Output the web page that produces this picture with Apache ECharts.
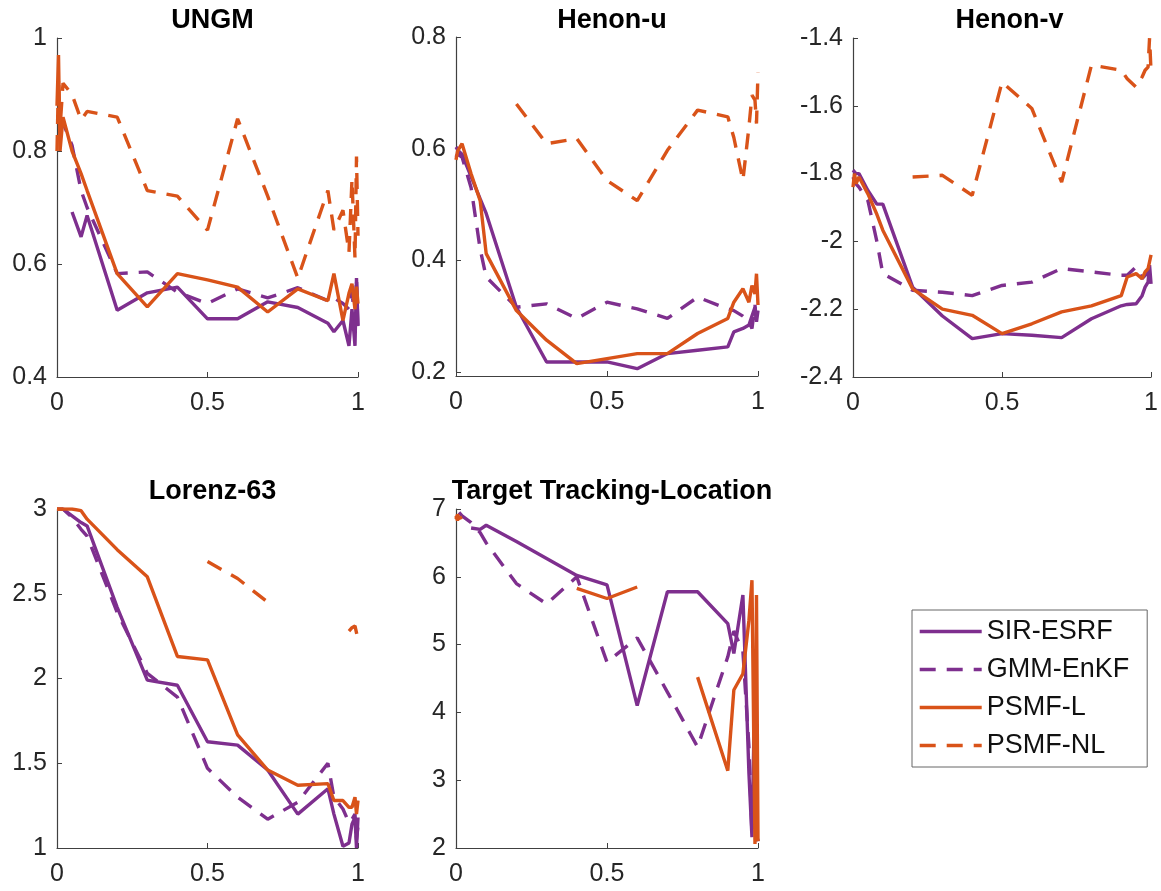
<!DOCTYPE html>
<html>
<head>
<meta charset="utf-8">
<script src="https://cdn.jsdelivr.net/npm/echarts@6/dist/echarts.min.js"></script>
<style>
html,body{margin:0;padding:0;background:#fff;}
#chart{width:1161px;height:891px;}
</style>
</head>
<body>
<div id="chart"></div>
<script>
// shared x grid
var X = [0, 0.005, 0.01, 0.02, 0.05, 0.08, 0.1, 0.2, 0.3, 0.4, 0.5, 0.6, 0.7, 0.8, 0.9, 0.92, 0.95, 0.97, 0.98, 0.99, 0.995, 1];

var panelTitles = ['UNGM', 'Henon-u', 'Henon-v', 'Lorenz-63', 'Target Tracking-Location'];
var seriesNames = ['SIR-ESRF', 'GMM-EnKF', 'PSMF-L', 'PSMF-NL'];

// UNGM
var ungm_sir  = [null,null,null,null,0.692,0.648,0.686,0.518,0.549,0.559,0.503,0.503,0.533,0.523,0.495,0.48,0.50,0.455,0.52,0.455,0.575,0.49];
var ungm_gmm  = [null,null,0.86,0.85,0.81,0.73,0.70,0.583,0.586,0.55,0.53,0.556,0.54,0.558,0.535,0.54,0.53,0.52,0.55,0.50,0.575,0.48];
var ungm_psl  = [0.88,0.97,0.80,0.86,0.80,0.76,0.73,0.583,0.524,0.583,0.572,0.559,0.515,0.556,0.535,0.583,0.50,0.548,0.565,0.52,0.56,0.53];
var ungm_psnl = [0.80,0.93,0.84,0.92,0.90,0.855,0.87,0.86,0.73,0.72,0.66,0.857,0.72,0.575,0.73,0.66,0.695,0.62,0.75,0.61,0.79,0.65];

// Henon-u
var hu_sir  = [0.603,0.60,0.595,0.59,0.55,0.51,0.484,0.316,0.218,0.218,0.218,0.206,0.233,0.239,0.245,0.272,0.278,0.284,0.30,0.316,0.29,0.31];
var hu_gmm  = [0.585,0.59,0.59,0.585,0.53,0.42,0.37,0.316,0.322,0.296,0.325,0.313,0.296,0.334,0.313,0.31,0.30,0.29,0.278,0.32,0.287,0.30];
var hu_psl  = [0.58,0.595,0.60,0.609,0.555,0.507,0.412,0.31,0.257,0.215,0.224,0.233,0.233,0.269,0.296,0.325,0.349,0.325,0.355,0.34,0.376,0.32];
var hu_psnl = [null,null,null,null,null,null,null,0.68,0.609,0.618,0.543,0.507,0.597,0.669,0.657,0.62,0.543,0.639,0.696,0.687,0.645,0.737];

// Henon-v
var hv_sir  = [-1.79,-1.79,-1.80,-1.80,-1.85,-1.89,-1.89,-2.135,-2.22,-2.287,-2.272,-2.277,-2.284,-2.228,-2.19,-2.186,-2.184,-2.16,-2.135,-2.12,-2.07,-2.125];
var hv_gmm  = [-1.81,-1.82,-1.83,-1.84,-1.88,-2.0,-2.095,-2.144,-2.15,-2.16,-2.13,-2.12,-2.08,-2.09,-2.10,-2.10,-2.075,-2.11,-2.10,-2.09,-2.08,-2.075];
var hv_psl  = [-1.84,-1.80,-1.83,-1.81,-1.86,-1.92,-1.967,-2.14,-2.2,-2.218,-2.272,-2.243,-2.208,-2.19,-2.16,-2.105,-2.095,-2.11,-2.09,-2.08,-2.06,-2.04];
var hv_psnl = [null,null,null,null,null,null,null,-1.81,-1.805,-1.864,-1.53,-1.608,-1.825,-1.48,-1.495,-1.52,-1.545,-1.515,-1.495,-1.486,-1.40,-1.50];

// Lorenz-63
var lz_sir  = [null,null,null,3.0,2.96,2.92,2.9,2.42,1.99,1.96,1.627,1.607,1.46,1.20,1.35,1.2,1.01,1.03,1.14,1.18,1.0,1.18];
var lz_gmm  = [3.0,3.0,3.0,3.0,2.95,2.88,2.84,2.39,2.03,1.89,1.47,1.30,1.17,1.27,1.5,1.3,1.23,1.15,1.17,1.2,1.05,1.13];
var lz_psl  = [3.0,3.0,3.0,3.0,3.0,2.99,2.94,2.76,2.6,2.13,2.11,1.667,1.46,1.37,1.38,1.28,1.28,1.24,1.24,1.30,1.2,1.28];
var lz_psnl = [3.0,3.0,3.0,3.0,null,null,null,null,null,null,2.69,2.59,2.45,null,null,null,null,2.28,2.3,2.31,2.32,2.23];

// Target Tracking-Location
var tt_sir  = [null,null,null,null,6.72,6.70,6.76,6.52,6.27,6.02,5.88,4.1,5.78,5.78,5.31,4.87,5.73,3.1,2.16,4.5,2.2,2.1];
var tt_gmm  = [null,null,6.95,6.9,6.8,6.65,6.5,5.9,5.6,6.0,4.74,5.1,4.3,3.49,4.82,5.2,4.9,3.5,2.2,2.6,2.2,2.1];
var tt_psl  = [6.85,6.92,6.86,6.88,null,null,null,null,null,5.83,5.68,5.85,null,4.52,3.14,4.33,4.57,5.36,5.95,2.06,5.73,2.1];
var tt_psnl = [6.9,6.83,6.9,null,null,null,null,null,null,null,null,null,null,null,null,null,null,null,null,null,null,null];

var panelData = [
  [ungm_sir, ungm_gmm, ungm_psl, ungm_psnl],
  [hu_sir, hu_gmm, hu_psl, hu_psnl],
  [hv_sir, hv_gmm, hv_psl, hv_psnl],
  [lz_sir, lz_gmm, lz_psl, lz_psnl],
  [tt_sir, tt_gmm, tt_psl, tt_psnl]
];
var yMin = [0.4, 0.2, -2.4, 1, 2];
var yMax = [1, 0.8, -1.4, 3, 7];
var yStep = [0.2, 0.2, 0.2, 0.5, 1];

// layout
var grids = [
  {left: 57, top: 38, width: 301, height: 339},
  {left: 456, top: 37, width: 302, height: 335},
  {left: 853, top: 38, width: 303, height: 339},
  {left: 57, top: 509, width: 301, height: 339},
  {left: 456, top: 509, width: 302, height: 339}
];
var xOffsets = [0, 4, 0, 0, 0];

var PURPLE = '#7E2F8E', ORANGE = '#D95319';
var colors = [PURPLE, PURPLE, ORANGE, ORANGE];
var dashed = [false, true, false, true];
var FONT = '"Liberation Sans", Arial, Helvetica, sans-serif';
var AXC = '#404040';

var xAxes = [], yAxes = [], series = [], titles = [];
for (var p = 0; p < 5; p++) {
  var g = grids[p];
  xAxes.push({
    type: 'value', gridIndex: p, min: 0, max: 1, interval: 0.5, offset: xOffsets[p],
    axisLine: {show: true, lineStyle: {color: AXC, width: 1.2}},
    axisTick: {show: true, inside: true, length: 5, lineStyle: {color: AXC}},
    axisLabel: {fontSize: 25, color: '#262626', fontFamily: FONT, margin: 14},
    splitLine: {show: false}
  });
  yAxes.push({
    type: 'value', gridIndex: p, min: yMin[p], max: yMax[p], interval: yStep[p],
    axisLine: {show: true, lineStyle: {color: AXC, width: 1.2}},
    axisTick: {show: true, inside: true, length: 5, lineStyle: {color: AXC}},
    axisLabel: {fontSize: 25, color: '#262626', fontFamily: FONT, margin: 10,
      formatter: function (v) { return String(Math.round(v * 1000) / 1000); }},
    splitLine: {show: false}
  });
  titles.push({
    text: panelTitles[p], left: g.left + g.width / 2, textAlign: 'center',
    top: p < 3 ? 2 : 473,
    textStyle: {fontSize: 27, fontWeight: 'bold', color: '#000', fontFamily: FONT}
  });
  for (var s = 0; s < 4; s++) {
    var ys = panelData[p][s];
    var d = X.map(function (x, i) { return [x, ys[i] == null ? '-' : ys[i]]; });
    series.push({
      name: seriesNames[s], type: 'line', xAxisIndex: p, yAxisIndex: p,
      data: d, showSymbol: false, symbol: 'none', connectNulls: false,
      animation: false, silent: true,
      lineStyle: {color: colors[s], width: 3.4, type: dashed[s] ? [16, 11] : 'solid'},
      itemStyle: {color: colors[s]}
    });
  }
}

var chart = echarts.init(document.getElementById('chart'), null, {renderer: 'canvas'});
chart.setOption({
  backgroundColor: '#fff',
  animation: false,
  title: titles,
  grid: grids,
  xAxis: xAxes,
  yAxis: yAxes,
  legend: {
    orient: 'vertical', left: 912, top: 610,
    data: seriesNames,
    itemWidth: 62, itemHeight: 14, itemGap: 11,
    padding: [8, 18, 8, 6],
    borderColor: '#666', borderWidth: 1,
    itemStyle: {opacity: 0},
    lineStyle: {width: 3.4},
    textStyle: {fontSize: 27, color: '#111', fontFamily: FONT},
    selectedMode: false
  },
  series: series
});
</script>
</body>
</html>
